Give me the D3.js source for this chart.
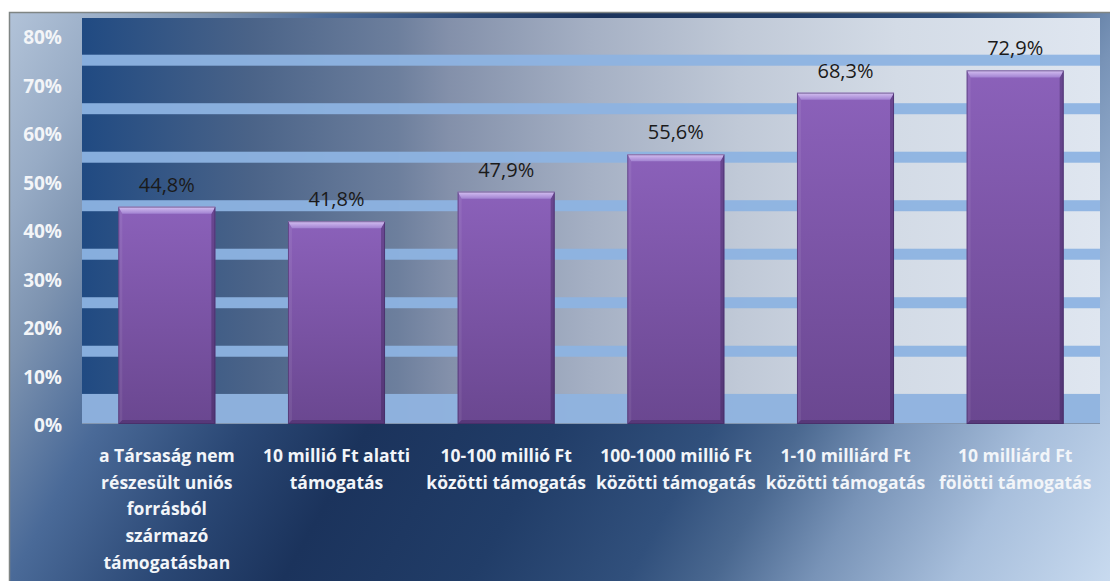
<!DOCTYPE html>
<html>
<head>
<meta charset="utf-8">
<script src="https://cdn.jsdelivr.net/npm/d3@7"></script>
<style>
  html, body { margin: 0; padding: 0; background: #ffffff; }
  svg { display: block; }
</style>
</head>
<body>
<svg id="chart" width="1110" height="581"></svg>
<script>
// Support-size categories (line breaks mark the wrapped label lines)
const categories = [
  "a Társaság nem\nrészesült uniós\nforrásból\nszármazó\ntámogatásban",
  "10 millió Ft alatti\ntámogatás",
  "10-100 millió Ft\nközötti támogatás",
  "100-1000 millió Ft\nközötti támogatás",
  "1-10 milliárd Ft\nközötti támogatás",
  "10 milliárd Ft\nfölötti támogatás"
];
// Share for each category
const values = [0.448, 0.418, 0.479, 0.556, 0.683, 0.729];
// Value-axis tick labels
const yTicks = [0, 0.1, 0.2, 0.3, 0.4, 0.5, 0.6, 0.7, 0.8];
// Light horizontal bands drawn across the plot wall
const bandStops = [0.15, 0.25, 0.35, 0.45, 0.55, 0.65, 0.75];
const floorTop = 0.062;

const svg = d3.select("#chart");
const W = 1110, H = 581;
const plot = { left: 82, right: 1100, top: 18, bottom: 424 };

const huLocale = d3.formatLocale({ decimal: ",", thousands: " ", grouping: [3], currency: ["", " Ft"] });
const pct1 = huLocale.format(".1%");
const pct0 = huLocale.format(".0%");

const x = d3.scaleBand()
  .domain(categories)
  .range([plot.left, plot.right])
  .paddingInner(0.428)
  .paddingOuter(0.214);

const y = d3.scaleLinear()
  .domain([0, 0.837])
  .range([plot.bottom, plot.top]);

const defs = svg.append("defs");

// Chart-area background: diagonal light → navy → light sweep
const bg = defs.append("linearGradient")
  .attr("id", "bgGrad")
  .attr("gradientUnits", "userSpaceOnUse")
  .attr("x1", 9).attr("y1", 12).attr("x2", 1089).attr("y2", 618);
[
  [0, "#b2c3d9"], [0.03, "#a8bad1"], [0.08, "#97abc5"], [0.14, "#7d93b0"],
  [0.225, "#4a6a98"], [0.33, "#2a4774"], [0.417, "#1b335c"], [0.55, "#213d68"],
  [0.66, "#31507c"], [0.72, "#4a6890"], [0.79, "#7893b7"], [0.89, "#a8bfdc"],
  [1, "#c8daef"]
].forEach(([o, c]) => bg.append("stop").attr("offset", o).attr("stop-color", c));

// Plot wall: dark blue on the left fading to pale grey-blue
const wall = defs.append("linearGradient")
  .attr("id", "wallGrad")
  .attr("x1", 0).attr("y1", 0).attr("x2", 1).attr("y2", 0);
[
  [0, "#204a82"], [0.165, "#4a6388"], [0.31, "#6d7f9d"], [0.36, "#8390aa"],
  [0.5, "#a5b0c4"], [0.646, "#c0c9d7"], [0.8, "#d3dbe6"], [1, "#dfe6f0"]
].forEach(([o, c]) => wall.append("stop").attr("offset", o).attr("stop-color", c));

// Bar body and bevel shading
const body = defs.append("linearGradient")
  .attr("id", "barBody").attr("x1", 0).attr("y1", 0).attr("x2", 0).attr("y2", 1);
body.append("stop").attr("offset", 0).attr("stop-color", "#8b61ba");
body.append("stop").attr("offset", 1).attr("stop-color", "#6a4790");

const topBevel = defs.append("linearGradient")
  .attr("id", "barTop").attr("x1", 0).attr("y1", 0).attr("x2", 0).attr("y2", 1);
topBevel.append("stop").attr("offset", 0).attr("stop-color", "#d6c2f2");
topBevel.append("stop").attr("offset", 1).attr("stop-color", "#a283d2");

// Outer chart area
svg.append("rect")
  .attr("x", 9).attr("y", 12)
  .attr("width", W - 9).attr("height", H - 12)
  .attr("fill", "url(#bgGrad)");
svg.append("path")
  .attr("d", `M9.5,${H} V12.5 H${W}`)
  .attr("fill", "none")
  .attr("stroke", "#7f8584")
  .attr("stroke-width", 1.5);

// Plot wall
svg.append("rect")
  .attr("x", plot.left).attr("y", plot.top)
  .attr("width", plot.right - plot.left).attr("height", plot.bottom - plot.top)
  .attr("fill", "url(#wallGrad)");

// Floor strip at the base of the wall
svg.append("rect")
  .attr("x", plot.left).attr("y", y(floorTop))
  .attr("width", plot.right - plot.left).attr("height", y(0) - y(floorTop))
  .attr("fill", "#8fb3df").attr("opacity", 0.97);

// Light horizontal bands
svg.append("g")
  .selectAll("rect")
  .data(bandStops)
  .join("rect")
  .attr("x", plot.left)
  .attr("y", d => y(d) - 5.5)
  .attr("width", plot.right - plot.left)
  .attr("height", 11)
  .attr("fill", "#8db3e2")
  .attr("opacity", 0.95);

// Base line
svg.append("line")
  .attr("x1", plot.left).attr("x2", plot.right)
  .attr("y1", y(0) - 0.5).attr("y2", y(0) - 0.5)
  .attr("stroke", "#8396b0").attr("stroke-width", 1);

// Value axis
const yAxis = svg.append("g")
  .attr("transform", `translate(${plot.left - 20},0)`)
  .call(d3.axisLeft(y).tickValues(yTicks).tickFormat(pct0).tickSize(0).tickPadding(0));
yAxis.select(".domain").remove();
yAxis.selectAll("text")
  .attr("dy", "0.4em")
  .attr("fill", "#f3f5f8")
  .style("font-family", "'Open Sans', sans-serif")
  .style("font-weight", "700")
  .style("font-size", "19px");

// Bars with bevelled edges
const data = categories.map((c, i) => ({ cat: c, value: values[i] }));
const bw = x.bandwidth();
const bev = 7, side = 4;

const bars = svg.append("g").selectAll("g")
  .data(data)
  .join("g");

bars.append("rect")
  .attr("x", d => x(d.cat))
  .attr("y", d => y(d.value))
  .attr("width", bw)
  .attr("height", d => y(0) - y(d.value))
  .attr("fill", "url(#barBody)");

// left edge
bars.append("path")
  .attr("d", d => {
    const x0 = x(d.cat), t = y(d.value), b = y(0);
    return `M${x0},${t} L${x0 + side},${t + bev} L${x0 + side},${b - side} L${x0},${b} Z`;
  })
  .attr("fill", "#ffffff").attr("opacity", 0.07);

// right edge
bars.append("path")
  .attr("d", d => {
    const x1 = x(d.cat) + bw, t = y(d.value), b = y(0);
    return `M${x1},${t} L${x1 - side},${t + bev} L${x1 - side},${b - side} L${x1},${b} Z`;
  })
  .attr("fill", "#2a1745").attr("opacity", 0.35);

// bottom edge
bars.append("path")
  .attr("d", d => {
    const x0 = x(d.cat), x1 = x0 + bw, b = y(0);
    return `M${x0},${b} L${x0 + side},${b - side} L${x1 - side},${b - side} L${x1},${b} Z`;
  })
  .attr("fill", "#2a1745").attr("opacity", 0.3);

// top bevel
bars.append("path")
  .attr("d", d => {
    const x0 = x(d.cat), x1 = x0 + bw, t = y(d.value);
    return `M${x0},${t} L${x1},${t} L${x1 - side},${t + bev} L${x0 + side},${t + bev} Z`;
  })
  .attr("fill", "url(#barTop)");

// outline
bars.append("rect")
  .attr("x", d => x(d.cat) + 0.5)
  .attr("y", d => y(d.value) + 0.5)
  .attr("width", bw - 1)
  .attr("height", d => y(0) - y(d.value) - 1)
  .attr("fill", "none")
  .attr("stroke", "#3e2a60")
  .attr("stroke-opacity", 0.55)
  .attr("stroke-width", 1);

// Value labels
svg.append("g").selectAll("text")
  .data(data)
  .join("text")
  .attr("x", d => x(d.cat) + bw / 2)
  .attr("y", d => y(d.value) - 15)
  .attr("text-anchor", "middle")
  .attr("fill", "#1a1a1a")
  .style("font-family", "'Open Sans', sans-serif")
  .style("font-size", "20px")
  .text(d => pct1(d.value));

// Category labels (wrapped)
const catLabels = svg.append("g").selectAll("text")
  .data(data)
  .join("text")
  .attr("x", d => x(d.cat) + bw / 2)
  .attr("y", 462)
  .attr("text-anchor", "middle")
  .attr("fill", "#f2f5f9")
  .style("font-family", "'Open Sans', sans-serif")
  .style("font-weight", "700")
  .style("font-size", "17.5px");
catLabels.selectAll("tspan")
  .data(d => d.cat.split("\n").map(line => ({ line, cx: x(d.cat) + bw / 2 })))
  .join("tspan")
  .attr("x", t => t.cx)
  .attr("dy", (t, i) => i === 0 ? 0 : 26.7)
  .text(t => t.line);
</script>
</body>
</html>
